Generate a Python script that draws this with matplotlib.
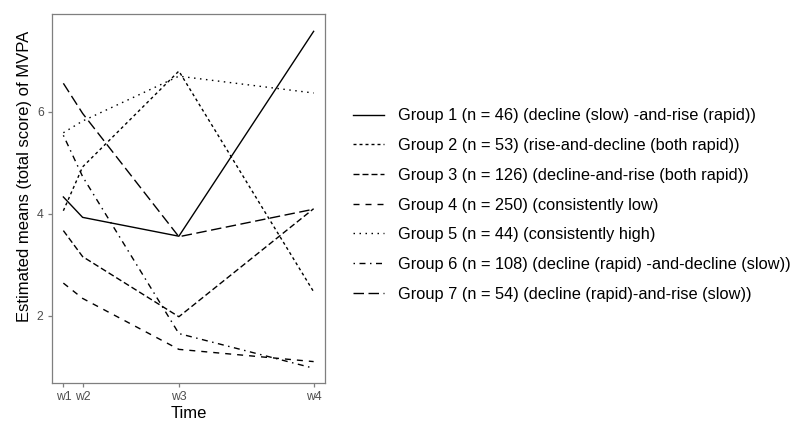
import numpy as np
import matplotlib.pyplot as plt

plt.rcParams['font.family'] = ['Liberation Sans', 'DejaVu Sans']

# time points (unevenly spaced waves)
waves = ['w1', 'w2', 'w3', 'w4']
wave_pos = [1, 2, 7, 14]

groups = [
    'Group 1 (n = 46) (decline (slow) -and-rise (rapid))',
    'Group 2 (n = 53) (rise-and-decline (both rapid))',
    'Group 3 (n = 126) (decline-and-rise (both rapid))',
    'Group 4 (n = 250) (consistently low)',
    'Group 5 (n = 44) (consistently high)',
    'Group 6 (n = 108) (decline (rapid) -and-decline (slow))',
    'Group 7 (n = 54) (decline (rapid)-and-rise (slow))',
]

g1 = [4.33, 3.93, 3.56, 7.58]
g2 = [4.06, 4.92, 6.80, 2.47]
g3 = [3.67, 3.16, 1.98, 4.10]
g4 = [2.64, 2.34, 1.34, 1.10]
g5 = [5.59, 5.82, 6.70, 6.37]
g6 = [5.54, 4.73, 1.65, 0.97]
g7 = [6.56, 5.97, 3.55, 4.09]
series = [g1, g2, g3, g4, g5, g6, g7]

# ggplot default linetypes: solid, 22, 42, 44, 13, 1343, 73
u = 1.08
dash_styles = [
    None,
    (2 * u, 2 * u),
    (4 * u, 2 * u),
    (4 * u, 4 * u),
    (1 * u, 3 * u),
    (1 * u, 3 * u, 4 * u, 3 * u),
    (7 * u, 3 * u),
]

W, H = 790, 421
fig = plt.figure(figsize=(W / 100, H / 100), dpi=100)
ax = fig.add_axes([52 / W, 1 - 383 / H, 273 / W, 369 / H])

for vals, lab, ds in zip(series, groups, dash_styles):
    line, = ax.plot(wave_pos, vals, color='black', lw=1.0, label=lab)
    if ds is not None:
        line.set_dashes(ds)

ax.set_xlim(1 - 0.59, 14 + 0.59)
ax.set_ylim(0.68, 7.92)
ax.set_xticks(wave_pos)
ax.set_xticklabels(waves)
ax.set_yticks([2, 4, 6])

for sp in ax.spines.values():
    sp.set_color('#7f7f7f')
    sp.set_linewidth(0.9)
ax.tick_params(colors='#7f7f7f', labelcolor='#4d4d4d', labelsize=8.8,
               length=3, width=0.9, pad=3)

# axis titles
fig.text(189 / W, 1 - 413 / H, 'Time', fontsize=12,
         ha='center', va='center')
fig.text(25 / W, 1 - 176 / H, 'Estimated means (total score) of MVPA',
         fontsize=12, rotation=90, ha='center', va='center')

# legend: fit font size and row spacing to the reference
# (first label ~358 px wide, rows ~29.7 px apart, block centred at y=205)
fs, sp_ = 11.5, 0.7
for _ in range(3):
    leg = fig.legend(loc='center left', bbox_to_anchor=(353 / W, 1 - 205 / H),
                     frameon=False, fontsize=fs, handlelength=1.9,
                     handletextpad=0.85, labelspacing=sp_,
                     borderpad=0, borderaxespad=0)
    fig.canvas.draw()
    r = fig.canvas.get_renderer()
    ext = [t.get_window_extent(r) for t in leg.get_texts()]
    width0 = ext[0].width
    step = (ext[0].y0 - ext[-1].y0) / 6
    leg.remove()
    new_fs = fs * 358 / width0
    sp_ = sp_ + (29.7 * fs / new_fs - step) / (fs * 100 / 72)
    fs = new_fs

fig.legend(loc='center left', bbox_to_anchor=(353 / W, 1 - 205 / H),
           frameon=False, fontsize=fs, handlelength=1.9,
           handletextpad=0.85, labelspacing=sp_,
           borderpad=0, borderaxespad=0)

fig.savefig('out.png', dpi=100)
